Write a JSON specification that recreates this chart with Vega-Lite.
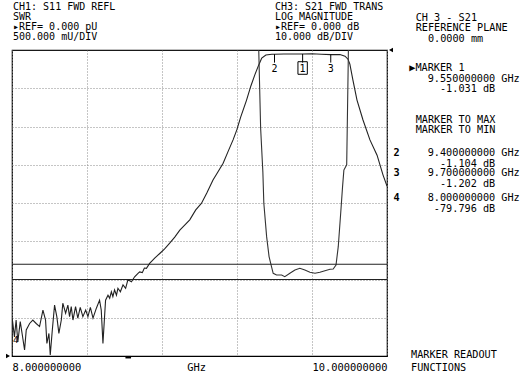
{
  "$schema": "https://vega.github.io/schema/vega-lite/v6.json",
  "width": 375,
  "height": 306,
  "autosize": "none",
  "padding": {"left": 12, "top": 50, "right": 142, "bottom": 30},
  "background": "white",
  "config": {
    "font": "DejaVu Sans Mono",
    "view": {"stroke": "black", "strokeWidth": 1.2},
    "text": {"font": "DejaVu Sans Mono", "fontSize": 10.2, "color": "black"}
  },
  "datasets": {
    "s21": [
      {"f": 8.0, "db": -79.8}, {"f": 8.001, "db": -70.1}, {"f": 8.013, "db": -75.0}, {"f": 8.022, "db": -70.6},
      {"f": 8.031, "db": -76.3}, {"f": 8.044, "db": -71.0}, {"f": 8.055, "db": -74.5}, {"f": 8.067, "db": -78.4},
      {"f": 8.076, "db": -73.2}, {"f": 8.094, "db": -71.5}, {"f": 8.111, "db": -70.6}, {"f": 8.129, "db": -71.5},
      {"f": 8.147, "db": -72.3}, {"f": 8.165, "db": -68.0}, {"f": 8.179, "db": -70.6}, {"f": 8.186, "db": -76.7},
      {"f": 8.197, "db": -74.1}, {"f": 8.204, "db": -79.7}, {"f": 8.215, "db": -73.2}, {"f": 8.227, "db": -66.7},
      {"f": 8.239, "db": -69.7}, {"f": 8.25, "db": -74.1}, {"f": 8.263, "db": -70.6}, {"f": 8.271, "db": -66.2},
      {"f": 8.286, "db": -68.8}, {"f": 8.298, "db": -66.7}, {"f": 8.307, "db": -69.7}, {"f": 8.316, "db": -67.1},
      {"f": 8.325, "db": -70.6}, {"f": 8.339, "db": -67.1}, {"f": 8.351, "db": -70.1}, {"f": 8.364, "db": -67.3},
      {"f": 8.378, "db": -69.7}, {"f": 8.393, "db": -68.0}, {"f": 8.405, "db": -69.7}, {"f": 8.418, "db": -67.3},
      {"f": 8.432, "db": -70.1}, {"f": 8.45, "db": -67.5}, {"f": 8.467, "db": -65.4}, {"f": 8.476, "db": -68.0},
      {"f": 8.485, "db": -76.7}, {"f": 8.499, "db": -65.4}, {"f": 8.512, "db": -64.1}, {"f": 8.521, "db": -64.9},
      {"f": 8.53, "db": -63.2}, {"f": 8.538, "db": -64.5}, {"f": 8.547, "db": -62.7}, {"f": 8.557, "db": -64.1},
      {"f": 8.565, "db": -62.3}, {"f": 8.578, "db": -63.2}, {"f": 8.592, "db": -61.4}, {"f": 8.606, "db": -62.3},
      {"f": 8.618, "db": -60.1}, {"f": 8.637, "db": -60.6}, {"f": 8.654, "db": -59.3}, {"f": 8.672, "db": -58.4},
      {"f": 8.681, "db": -58.0}, {"f": 8.695, "db": -58.2}, {"f": 8.706, "db": -57.0}, {"f": 8.717, "db": -57.1},
      {"f": 8.734, "db": -55.8}, {"f": 8.761, "db": -54.4}, {"f": 8.788, "db": -53.2}, {"f": 8.814, "db": -52.0},
      {"f": 8.841, "db": -50.5}, {"f": 8.868, "db": -48.9}, {"f": 8.895, "db": -47.1}, {"f": 8.921, "db": -45.8},
      {"f": 8.948, "db": -44.4}, {"f": 8.98, "db": -41.8}, {"f": 9.01, "db": -40.1}, {"f": 9.039, "db": -37.4},
      {"f": 9.072, "db": -34.0}, {"f": 9.098, "db": -31.9}, {"f": 9.126, "db": -29.6}, {"f": 9.151, "db": -26.7},
      {"f": 9.179, "db": -23.5}, {"f": 9.199, "db": -20.9}, {"f": 9.22, "db": -17.5}, {"f": 9.251, "db": -13.1},
      {"f": 9.274, "db": -9.4}, {"f": 9.295, "db": -6.5}, {"f": 9.316, "db": -3.9}, {"f": 9.332, "db": -2.1},
      {"f": 9.354, "db": -1.3}, {"f": 9.386, "db": -1.1}, {"f": 9.4, "db": -1.104}, {"f": 9.45, "db": -1.05},
      {"f": 9.5, "db": -1.05}, {"f": 9.55, "db": -1.031}, {"f": 9.6, "db": -1.0}, {"f": 9.65, "db": -1.1},
      {"f": 9.7, "db": -1.202}, {"f": 9.749, "db": -1.2}, {"f": 9.776, "db": -1.6}, {"f": 9.792, "db": -2.4},
      {"f": 9.802, "db": -3.7}, {"f": 9.818, "db": -7.8}, {"f": 9.84, "db": -13.1}, {"f": 9.872, "db": -18.3},
      {"f": 9.909, "db": -23.5}, {"f": 9.947, "db": -27.5}, {"f": 9.979, "db": -32.7}, {"f": 10.0, "db": -35.6}
    ],
    "s11": [
      {"f": 8.0, "swr": 4.0}, {"f": 9.316, "swr": 4.0}, {"f": 9.326, "swr": 2.98}, {"f": 9.338, "swr": 2.4},
      {"f": 9.343, "swr": 2.0}, {"f": 9.358, "swr": 1.56}, {"f": 9.371, "swr": 1.3}, {"f": 9.384, "swr": 1.167},
      {"f": 9.393, "swr": 1.081}, {"f": 9.411, "swr": 1.059}, {"f": 9.438, "swr": 1.059}, {"f": 9.455, "swr": 1.037},
      {"f": 9.482, "swr": 1.081}, {"f": 9.509, "swr": 1.124}, {"f": 9.535, "swr": 1.146}, {"f": 9.562, "swr": 1.124},
      {"f": 9.589, "swr": 1.094}, {"f": 9.616, "swr": 1.081}, {"f": 9.642, "swr": 1.094}, {"f": 9.669, "swr": 1.115},
      {"f": 9.696, "swr": 1.133}, {"f": 9.713, "swr": 1.137}, {"f": 9.728, "swr": 1.19}, {"f": 9.74, "swr": 1.429},
      {"f": 9.753, "swr": 1.865}, {"f": 9.763, "swr": 2.214}, {"f": 9.77, "swr": 2.43}, {"f": 9.785, "swr": 2.5},
      {"f": 9.793, "swr": 3.8}, {"f": 9.794, "swr": 4.0}, {"f": 10.0, "swr": 4.0}
    ],
    "markers": [
      {"m": "2", "f": 9.4, "db": -1.104},
      {"m": "1", "f": 9.55, "db": -1.031},
      {"m": "3", "f": 9.7, "db": -1.202}
    ],
    "limits": [{"swr": 1.2}, {"swr": 1.0}]
  },
  "layer": [
    {
      "layer": [
        {
          "data": {"name": "s21"},
          "mark": {"type": "line", "color": "#222222", "strokeWidth": 1.1, "clip": true},
          "encoding": {
            "x": {"field": "f", "type": "quantitative", "scale": {"domain": [8, 10], "nice": false, "zero": false},
              "axis": {"values": [8, 8.2, 8.4, 8.6, 8.8, 9, 9.2, 9.4, 9.6, 9.8, 10], "title": null, "domain": false, "ticks": false,
                "grid": true, "gridDash": [1, 2], "gridColor": "#8a8a8a", "gridWidth": 1,
                "labelExpr": "datum.value == 8 ? '8.000000000' : datum.value == 10 ? '10.000000000' : ''",
                "labelFlush": true, "labelOverlap": false, "labelBound": false, "labelFont": "DejaVu Sans Mono", "labelFontSize": 10.4,
                "labelColor": "black", "labelPadding": 6.5}},
            "y": {"field": "db", "type": "quantitative", "scale": {"domain": [-80, 0], "nice": false, "zero": false},
              "axis": {"values": [-70, -60, -50, -40, -30, -20, -10], "title": null, "labels": false, "ticks": false, "domain": false,
                "grid": true, "gridDash": [1, 2], "gridColor": "#8a8a8a", "gridWidth": 1}}
          }
        },
        {
          "data": {"name": "markers"},
          "mark": {"type": "rule", "color": "black", "strokeWidth": 1},
          "encoding": {
            "x": {"field": "f", "type": "quantitative", "scale": {"domain": [8, 10]}},
            "y": {"field": "db", "type": "quantitative", "scale": {"domain": [-80, 0]}},
            "y2": {"datum": -3.3}
          }
        },
        {
          "data": {"name": "markers"},
          "mark": {"type": "text", "baseline": "middle", "align": "center", "fontSize": 10},
          "encoding": {
            "x": {"field": "f", "type": "quantitative", "scale": {"domain": [8, 10]}},
            "y": {"datum": -4.97, "type": "quantitative", "scale": {"domain": [-80, 0]}},
            "text": {"field": "m"}
          }
        },
        {
          "data": {"values": [{"m": "1"}]},
          "mark": {"type": "rect", "fill": null, "fillOpacity": 0, "stroke": "black", "strokeWidth": 1},
          "encoding": {
            "x": {"datum": 9.525, "type": "quantitative", "scale": {"domain": [8, 10]}},
            "x2": {"datum": 9.575},
            "y": {"datum": -3.06, "type": "quantitative", "scale": {"domain": [-80, 0]}},
            "y2": {"datum": -6.35}
          }
        },
        {
          "data": {"values": [{"m": "4"}]},
          "mark": {"type": "text", "baseline": "middle", "align": "left", "dx": 1, "fontSize": 9, "clip": false},
          "encoding": {
            "x": {"datum": 8.0, "type": "quantitative", "scale": {"domain": [8, 10]}},
            "y": {"datum": -75.8, "type": "quantitative", "scale": {"domain": [-80, 0]}},
            "text": {"field": "m"}
          }
        },
        {
          "data": {"values": [{"ref": "S21"}]},
          "mark": {"type": "point", "shape": "triangle-left", "filled": true, "color": "black", "size": 22, "opacity": 1, "xOffset": 4, "clip": false},
          "encoding": {
            "x": {"datum": 10.0, "type": "quantitative", "scale": {"domain": [8, 10]}},
            "y": {"datum": 0, "type": "quantitative", "scale": {"domain": [-80, 0]}}
          }
        },
        {
          "data": {"values": [{"t": "GHz"}]},
          "mark": {"type": "text", "baseline": "top", "align": "center", "fontSize": 10.4, "clip": false},
          "encoding": {
            "x": {"datum": 8.985, "type": "quantitative", "scale": {"domain": [8, 10]}},
            "y": {"datum": -81.75, "type": "quantitative", "scale": {"domain": [-80, 0]}},
            "text": {"field": "t"}
          }
        },
        {
          "data": {"values": [{"t": ["CH1: S11 FWD REFL", "SWR", "▸REF= 0.000 pU", "500.000 mU/DIV"]}]},
          "mark": {"type": "text", "baseline": "top", "align": "left", "lineHeight": 10, "fontSize": 10, "dx": 1, "clip": false},
          "encoding": {
            "x": {"datum": 8.0, "type": "quantitative", "scale": {"domain": [8, 10]}},
            "y": {"datum": 12.5, "type": "quantitative", "scale": {"domain": [-80, 0]}},
            "text": {"field": "t"}
          }
        },
        {
          "data": {"values": [{"t": ["CH3: S21 FWD TRANS", "LOG MAGNITUDE", "▸REF= 0.000 dB", "10.000 dB/DIV"]}]},
          "mark": {"type": "text", "baseline": "top", "align": "left", "lineHeight": 10, "fontSize": 10, "clip": false},
          "encoding": {
            "x": {"datum": 9.402, "type": "quantitative", "scale": {"domain": [8, 10]}},
            "y": {"datum": 12.5, "type": "quantitative", "scale": {"domain": [-80, 0]}},
            "text": {"field": "t"}
          }
        },
        {
          "data": {"values": [{"t": ["CH 3 - S21", "REFERENCE PLANE", "\u200b\u00a0\u00a00.0000 mm"]}]},
          "mark": {"type": "text", "baseline": "top", "align": "left", "lineHeight": 10.3, "clip": false},
          "encoding": {
            "x": {"datum": 10.153, "type": "quantitative", "scale": {"domain": [8, 10]}},
            "y": {"datum": 9.67, "type": "quantitative", "scale": {"domain": [-80, 0]}},
            "text": {"field": "t"}
          }
        },
        {
          "data": {"values": [{"t": ["▶MARKER 1", "\u200b\u00a0\u00a0\u00a09.550000000 GHz", "\u200b\u00a0\u00a0\u00a0\u00a0\u00a0-1.031 dB"]}]},
          "mark": {"type": "text", "baseline": "top", "align": "left", "lineHeight": 10.3, "clip": false},
          "encoding": {
            "x": {"datum": 10.119, "type": "quantitative", "scale": {"domain": [8, 10]}},
            "y": {"datum": -3.48, "type": "quantitative", "scale": {"domain": [-80, 0]}},
            "text": {"field": "t"}
          }
        },
        {
          "data": {"values": [{"t": ["MARKER TO MAX", "MARKER TO MIN"]}]},
          "mark": {"type": "text", "baseline": "top", "align": "left", "lineHeight": 10.3, "clip": false},
          "encoding": {
            "x": {"datum": 10.153, "type": "quantitative", "scale": {"domain": [8, 10]}},
            "y": {"datum": -16.99, "type": "quantitative", "scale": {"domain": [-80, 0]}},
            "text": {"field": "t"}
          }
        },
        {
          "data": {"values": [{"t": ["\u200b\u00a0\u00a0\u00a09.400000000 GHz", "\u200b\u00a0\u00a0\u00a0\u00a0\u00a0-1.104 dB"]}]},
          "mark": {"type": "text", "baseline": "top", "align": "left", "lineHeight": 10.5, "clip": false},
          "encoding": {
            "x": {"datum": 10.119, "type": "quantitative", "scale": {"domain": [8, 10]}},
            "y": {"datum": -25.71, "type": "quantitative", "scale": {"domain": [-80, 0]}},
            "text": {"field": "t"}
          }
        },
        {
          "data": {"values": [{"t": ["\u200b\u00a0\u00a0\u00a09.700000000 GHz", "\u200b\u00a0\u00a0\u00a0\u00a0\u00a0-1.202 dB"]}]},
          "mark": {"type": "text", "baseline": "top", "align": "left", "lineHeight": 11, "clip": false},
          "encoding": {
            "x": {"datum": 10.119, "type": "quantitative", "scale": {"domain": [8, 10]}},
            "y": {"datum": -30.93, "type": "quantitative", "scale": {"domain": [-80, 0]}},
            "text": {"field": "t"}
          }
        },
        {
          "data": {"values": [{"t": ["\u200b\u00a0\u00a0\u00a08.000000000 GHz", "\u200b\u00a0\u00a0\u00a0\u00a0-79.796 dB"]}]},
          "mark": {"type": "text", "baseline": "top", "align": "left", "lineHeight": 11, "clip": false},
          "encoding": {
            "x": {"datum": 10.119, "type": "quantitative", "scale": {"domain": [8, 10]}},
            "y": {"datum": -37.47, "type": "quantitative", "scale": {"domain": [-80, 0]}},
            "text": {"field": "t"}
          }
        },
        {
          "data": {"values": [{"n": "2", "db": -25.71}, {"n": "3", "db": -30.93}, {"n": "4", "db": -37.47}]},
          "mark": {"type": "text", "baseline": "top", "align": "left", "fontWeight": "bold", "clip": false},
          "encoding": {
            "x": {"datum": 10.034, "type": "quantitative", "scale": {"domain": [8, 10]}},
            "y": {"field": "db", "type": "quantitative", "scale": {"domain": [-80, 0]}},
            "text": {"field": "n"}
          }
        },
        {
          "data": {"values": [{"t": ["MARKER READOUT", "FUNCTIONS"]}]},
          "mark": {"type": "text", "baseline": "top", "align": "left", "lineHeight": 13.3, "clip": false},
          "encoding": {
            "x": {"datum": 10.128, "type": "quantitative", "scale": {"domain": [8, 10]}},
            "y": {"datum": -78.43, "type": "quantitative", "scale": {"domain": [-80, 0]}},
            "text": {"field": "t"}
          }
        }
      ]
    },
    {
      "layer": [
        {
          "data": {"name": "s11"},
          "mark": {"type": "line", "color": "#333333", "strokeWidth": 1.1, "clip": true},
          "encoding": {
            "x": {"field": "f", "type": "quantitative", "scale": {"domain": [8, 10]}},
            "y": {"field": "swr", "type": "quantitative", "scale": {"domain": [0, 4], "nice": false, "zero": false}, "axis": null}
          }
        },
        {
          "data": {"name": "limits"},
          "mark": {"type": "rule", "color": "#222222", "strokeWidth": 1.1},
          "encoding": {
            "y": {"field": "swr", "type": "quantitative", "scale": {"domain": [0, 4]}, "axis": null}
          }
        },
        {
          "data": {"values": [{"ref": "S11"}]},
          "mark": {"type": "point", "shape": "triangle-right", "filled": true, "color": "black", "size": 22, "opacity": 1, "xOffset": -4, "clip": false},
          "encoding": {
            "x": {"datum": 8.0, "type": "quantitative", "scale": {"domain": [8, 10]}},
            "y": {"datum": 0, "type": "quantitative", "scale": {"domain": [0, 4]}, "axis": null}
          }
        },
        {
          "data": {"values": [{"c": "stim"}]},
          "mark": {"type": "rule", "color": "black", "strokeWidth": 2.5, "yOffset": 1.2, "clip": false},
          "encoding": {
            "x": {"datum": 8.605, "type": "quantitative", "scale": {"domain": [8, 10]}},
            "x2": {"datum": 8.635},
            "y": {"datum": 0, "type": "quantitative", "scale": {"domain": [0, 4]}, "axis": null}
          }
        }
      ]
    }
  ],
  "resolve": {"scale": {"y": "independent"}}
}
